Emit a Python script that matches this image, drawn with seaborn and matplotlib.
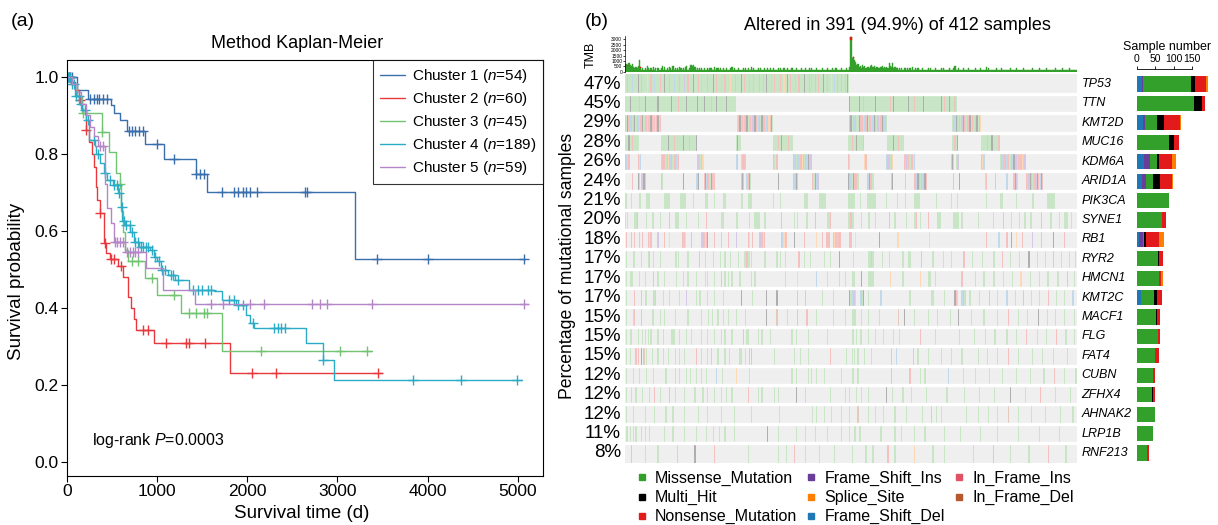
import numpy as np
import matplotlib
matplotlib.use("Agg")
import matplotlib.pyplot as plt
from matplotlib.colors import ListedColormap
from matplotlib.lines import Line2D
import seaborn as sns

# ---------------- (a) Kaplan-Meier data ----------------
km_labels = ["Chuster 1 ($\\it{n}$=54)", "Chuster 2 ($\\it{n}$=60)", "Chuster 3 ($\\it{n}$=45)",
             "Chuster 4 ($\\it{n}$=189)", "Chuster 5 ($\\it{n}$=59)"]
km_colors = ["#3a6fae", "#e8383d", "#72c472", "#2aabc6", "#b486c8"]

c1_t = [0, 111, 230, 487, 527, 586, 665, 863, 1081, 1430, 1556, 3200]
c1_s = [1.0, 0.964, 0.942, 0.927, 0.905, 0.888, 0.859, 0.824, 0.785, 0.747, 0.700, 0.526]
c1_end = 5080
c1_cens = [20, 40, 60, 260, 300, 330, 360, 400, 450, 690, 720, 760, 800, 850, 1002, 1192,
           1437, 1476, 1516, 1715, 1853, 1893, 1952, 1992, 2032, 2111, 2645, 2665, 3437, 3999, 5073]

c2_t = [0, 40, 91, 131, 170, 210, 250, 280, 300, 321, 337, 368, 408, 440, 480, 566, 626, 677,
        717, 745, 770, 970, 1814]
c2_s = [1.0, 0.985, 0.964, 0.94, 0.913, 0.861, 0.83, 0.80, 0.766, 0.714, 0.68, 0.645, 0.569,
        0.541, 0.526, 0.508, 0.48, 0.429, 0.398, 0.37, 0.342, 0.307, 0.231]
c2_end = 3497
c2_cens = [30, 150, 210, 368, 428, 487, 519, 600, 843, 903, 1101, 1319, 1358, 1536, 2051, 2321, 3445]

c3_t = [0, 60, 110, 170, 390, 470, 546, 590, 606, 620, 645, 673, 863, 1002, 1271, 1723]
c3_s = [1.0, 0.98, 0.95, 0.905, 0.857, 0.805, 0.749, 0.72, 0.65, 0.597, 0.55, 0.52, 0.476,
        0.433, 0.385, 0.288]
c3_end = 3378
c3_cens = [15, 180, 390, 595, 725, 784, 942, 1188, 1358, 1437, 1516, 1556, 2150, 3029, 3326]

c4_t = [0, 51, 91, 131, 170, 210, 250, 309, 329, 368, 408, 447, 507, 566, 600, 615, 645, 705,
        745, 804, 923, 962, 1002, 1041, 1121, 1200, 1358, 1636, 1715, 1873, 1992, 2032, 2071,
        2657, 2843, 2962]
c4_s = [1.0, 0.98, 0.95, 0.93, 0.913, 0.888, 0.836, 0.82, 0.80, 0.776, 0.75, 0.732, 0.719,
        0.697, 0.662, 0.624, 0.615, 0.597, 0.571, 0.558, 0.55, 0.532, 0.52, 0.498, 0.485,
        0.472, 0.446, 0.442, 0.42, 0.407, 0.381, 0.359, 0.348, 0.307, 0.264, 0.212]
c4_end = 5041
c4_cens = [10, 25, 40, 60, 80, 100, 130, 160, 200, 240, 300, 350, 420, 480, 520, 560, 580, 610,
           630, 660, 700, 720, 760, 790, 820, 850, 880, 900, 940, 980, 1020, 1060, 1090, 1150,
           1180, 1230, 1400, 1450, 1500, 1560, 1600, 1800, 1850, 1900, 1950, 2060, 2300, 2340,
           2380, 2420, 2843, 3841, 4368, 4990]

c5_t = [0, 60, 110, 160, 210, 260, 300, 348, 420, 447, 487, 527, 645, 883, 1061, 1418]
c5_s = [1.0, 0.98, 0.96, 0.93, 0.9, 0.87, 0.845, 0.82, 0.72, 0.659, 0.62, 0.571, 0.545, 0.502,
        0.446, 0.41]
c5_end = 5112
c5_cens = [368, 400, 530, 560, 590, 620, 665, 700, 730, 760, 784, 1596, 1734, 2032, 2190, 2713,
           2804, 2883, 3386, 5069]

# ---------------- (b) oncoplot data ----------------
n_samples = 391
genes = ["TP53", "TTN", "KMT2D", "MUC16", "KDM6A", "ARID1A", "PIK3CA", "SYNE1", "RB1", "RYR2",
         "HMCN1", "KMT2C", "MACF1", "FLG", "FAT4", "CUBN", "ZFHX4", "AHNAK2", "LRP1B", "RNF213"]
pct = [47, 45, 29, 28, 26, 24, 21, 20, 18, 17, 17, 17, 15, 15, 15, 12, 12, 12, 11, 8]

# side bar counts per variant class
fs_del = [13, 0, 16, 0, 20, 13, 0, 0, 7, 0, 0, 11, 0, 0, 2, 2, 0, 0, 0, 0]
fs_ins = [4, 0, 6, 0, 16, 13, 0, 0, 9, 0, 0, 0, 0, 0, 0, 0, 0, 0, 0, 0]
if_del = [0, 0, 0, 0, 0, 0, 0, 2, 0, 0, 0, 0, 2, 0, 0, 0, 0, 3, 0, 2]
if_ins = [0, 2, 0, 0, 0, 0, 0, 0, 0, 0, 0, 0, 0, 0, 0, 0, 0, 0, 0, 0]
missense = [130, 153, 33, 88, 20, 18, 88, 67, 5, 58, 60, 36, 50, 58, 46, 43, 42, 45, 45, 25]
multi_hit = [11, 20, 19, 13, 4, 18, 0, 0, 5, 2, 0, 7, 4, 0, 2, 0, 3, 0, 0, 0]
nonsense = [30, 9, 42, 12, 35, 34, 0, 10, 35, 10, 5, 14, 6, 4, 10, 4, 4, 0, 0, 6]
splice = [4, 1, 3, 0, 12, 2, 0, 0, 13, 0, 5, 0, 0, 0, 0, 0, 0, 0, 0, 0]

# TMB per sample (base-36 digits, x100)
tmb_levels = ("7768657434" "35b4232325" "3232423132" "2352423243" "2523232432" "3245236656"
              "4232323232" "2323322423" "3232232322" "2342322232" "2232323224" "2322232322"
              "3223232232" "2232322322" "3222322232" "2232223223" "2322232222" "3222232223"
              "2232222322" "23224wdeb9" "6745364534" "4356453443" "3453434385" "4834332323"
              "2332323242" "2323222322" "2232322232" "2223232222" "3222352232" "2232222322"
              "2223222322" "2242322222" "2322232222" "2223222232" "2222322222" "2232222232"
              "2222322222" "2232222232" "2222322222" "2")
tmb_red_cols = [195, 197, 13, 2]
tmb_red_vals = [250, 120, 100, 80]

# per-gene sample cells: "start:pattern" (M missense, H multi-hit, N nonsense, I fs-ins,
# S splice, D fs-del, i in-frame ins, d in-frame del)
onco_rows = [
    "0:MMNMMMDMMMMHMMNMMMMSMMNMMDMMMMNMMMHMMMNMMMDMMMMNMMMIMMNMMMMHMMMNMMDMMMMNMMMMHMMN"
    "MMMDMMNMMMMSMMMNMMMMHMMNMMMDMMMNMMMMIMMNMMHMMMDMMNMMMMNMMSMMHMMNMMMDMMNMMMMHMMMN"
    "MDMMIMMNMMMHMMMNMMSMMDMNMMMIMMNMHM",
    "0:MMMMHMMMMMMMNMMMMHMMMMMMMMMMHMMMMMMMMMMMHMMMMMNMMMMMMHMMMMMMMMHMMMMMHMMMMMNMMMMHMM"
    "MMMMMHMMMMMiMM 194:HMMMMMMMHMMMNMMMMMMMMMHMMMMMMMMMMMMNMMHMMMMMMMMMMMMHMMMMNMMMMMMMH"
    "MMMMMMMMMMMMMMHMMNMMMHMMMMdM",
    "0:NMHNDNMNHMNDMNNHMINMNDHNMNSNHMN 97:MNHDNMNNHMDNMINHNMDNMHNNMDNSNHM "
    "194:NHMNDNMMHNINMDNHMNNMDHNMNIMNHNDNM 283:MNDHNMNMIHNDMNNHMNDMNHMNS",
    "0:MMMHMMNMMMMM 31:MMMMMMHMMMMNMMMMMMMHMMMMNMMMMMH 96:MHMM 128:MMMMNMMHMMMMMNMMM "
    "193:MMMNMMMHMMMMMN 227:MMMMMHMMMNMMMM 283:MMNMH 308:MMMMMNMMMHMMMMMN",
    "0:NDMN 11:NSD 31:DNINMNSNDIMNNDMN 62:NIDMNS 96:DN 100:MNIND 128:NMSN "
    "145:IDNMNDNISNMNDHNIN 193:NM 207:SN 226:DINMNS 241:NDIDNMINSD 282:NHD 286:MNI "
    "308:NSD 324:MNDINIDNSMNDHNIMNDNSDIN",
    "6:N 11:HD 14:NIHN 31:NM 50:H 61:DNH 68:NHDINMHNDN 100:IHN 105:DNHM 132:H 145:NDIHN "
    "162:NMHDNI 193:HNDMHNINM 209:NDHNIM 230:NH 242:D 250:NIDHNMIDNHN 284:N 289:H 311:MN "
    "320:N 330:D 336:NHIM 347:NDIHNMDNIHNSDHN",
    "0:MM 5:M 12:MM 18:MMMM 34:MMMMM 48:MMMMM 59:M 69:MMM 77:M 85:MM 100:MM 106:MMMM 128:M "
    "134:M 155:MMM 168:MMMMMM 193:MMMMMM 203:M 209:MMMMMMMM 226:M 235:M 242:M 250:MMMMM "
    "269:M 282:M 287:M 312:M 324:MMM 338:M 352:MM 365:MMMMMMM",
    "0:M 2:M 8:MMN 18:M 23:MM 30:M 38:N 43:MMMM 53:M 63:M 70:N 83:MMM 96:MM 107:M 112:MMMMM "
    "120:MM 135:N 146:M 149:M 157:M 164:d 175:MMN 193:MMNMM 204:M 210:MM 216:M 228:N 233:M "
    "243:M 250:MMN 255:M 262:N 270:MMM 284:MMMMM 291:M 305:M 318:M 327:d 334:M 341:M "
    "345:MM 350:MM 360:N 368:M 375:M 380:MMM 386:M",
    "1:N 5:I 8:N 12:D 15:N 20:NSN 28:I 34:N 38:S 49:NDNS 57:N 66:NINSNH 77:N 83:D 89:N "
    "96:I 106:NS 110:N 116:NINSN 135:NDSNN 146:H 155:N 165:S 170:N 174:NIN 180:NSNDNIN "
    "194:NN 199:S 220:H 235:SS 263:S 312:N 323:D 330:N 334:H 338:S 343:N 352:I 360:N "
    "370:H 380:N",
    "1:M 7:MM 14:M 20:MN 24:M 30:M 43:MM 46:M 54:M 64:N 69:M 76:M 82:M 86:M 91:M 98:M "
    "103:MMNMM 109:M 120:MM 131:M 134:M 138:M 150:N 155:M 160:M 172:M 177:M 185:H 197:M "
    "210:MMMNM 222:M 228:M 240:M 245:MM 256:N 266:M 275:M 282:M 292:NN 300:M 309:M "
    "318:MM 326:N 333:M 341:M 349:H 356:M 363:M 370:N 377:M 384:M 389:M",
    "1:M 4:MMM 12:M 17:M 24:N 28:M 34:M 44:M 50:M 54:M 61:M 69:M 71:M 77:M 83:N 86:M 89:M "
    "92:M 99:M 109:M 112:M 138:M 149:S 165:D 175:M 185:M 190:M 196:MMM 204:H 210:MMMMM "
    "229:S 240:M 255:S 262:MMM 268:M 291:N 303:M 310:M 318:MM 327:M 335:M 342:S 350:M "
    "358:M 365:MM 374:M 382:N 388:M",
    "1:M 8:N 14:N 17:MM 24:DMD 33:M 38:M 47:M 53:I 61:M 64:MM 71:M 77:M 85:M 100:H 110:M "
    "122:H 131:H 149:N 156:N 170:M 180:M 194:HMDNIM 203:DNMH 210:M 221:D 246:M 265:MM "
    "276:M 285:HNM 291:DNMD 298:M 306:M 315:N 322:M 330:D 337:M 344:N 351:M 358:M 366:N "
    "373:M 380:M 387:D",
    "1:M 7:MN 14:N 23:MM 30:M 34:M 43:M 54:M 66:M 72:M 75:M 80:M 85:M 89:M 96:M 104:M "
    "122:H 131:d 140:M 149:N 157:N 165:M 180:M 190:M 196:MMMM 204:M 210:M 220:M 236:d "
    "241:H 250:M 262:M 270:M 281:M 288:H 299:M 310:M 322:M 331:N 340:M 348:M 357:H 365:M "
    "372:M 380:M 388:M",
    "1:M 4:MM 11:M 15:M 17:M 20:M 22:M 28:M 33:M 40:MMM 47:M 53:M 57:M 66:M 71:M 77:M "
    "83:M 86:M 92:M 102:N 105:MM 115:M 118:M 125:M 144:M 148:M 158:M 175:M 196:MM 200:M "
    "203:MM 210:M 216:M 223:M 232:M 237:M 255:N 268:M 289:M 302:M 311:M 319:MM 330:M "
    "338:M 347:N 356:M 364:M 373:N 381:M 388:M",
    "1:M 4:M 9:N 11:N 14:H 16:d 18:M 23:M 28:M 33:M 37:M 43:M 47:M 51:M 61:N 66:M 71:M "
    "74:D 80:M 86:M 90:M 99:MM 104:M 107:N 109:N 129:M 146:M 151:M 158:M 177:N 191:M "
    "196:M 198:M 201:M 207:M 213:M 230:N 234:D 249:N 253:M 262:M 273:M 282:M 291:M 305:M "
    "313:M 322:M 331:N 340:M 352:M 361:M 370:M 382:M",
    "1:M 7:M 12:M 18:M 24:M 35:M 43:M 47:M 53:M 56:M 61:M 66:M 70:M 79:D 84:M 96:S 107:M "
    "144:M 148:M 158:M 161:M 165:M 172:M 187:M 196:MM 201:M 230:N 246:N 255:M 259:M "
    "279:D 292:M 303:M 315:M 326:M 338:M 350:M 362:M 371:N 380:M 389:MM",
    "1:M 5:M 9:M 15:M 21:M 25:N 30:M 38:N 43:M 51:M 60:M 67:M 71:M 77:M 83:M 87:M 92:M "
    "106:N 115:M 118:M 129:M 132:M 148:H 156:M 177:M 190:M 194:M 200:M 204:M 210:M 226:H "
    "231:M 240:M 247:M 260:M 278:M 293:M 306:M 319:M 333:H 346:M 359:N 372:M 385:M",
    "1:M 7:M 17:M 25:M 35:M 41:M 51:M 63:M 71:M 83:M 94:M 109:M 133:M 162:M 165:M 172:M "
    "178:M 187:M 194:M 201:d 210:M 216:M 223:M 233:M 243:M 257:M 265:d 269:M 273:M "
    "295:M 305:M 314:M 322:M 331:d 340:M 351:M 363:M 376:M 387:M",
    "1:MM 4:M 7:M 9:M 14:M 17:M 21:M 34:M 41:M 51:M 61:M 70:M 76:M 81:M 86:M 94:M 123:H "
    "132:M 148:M 156:M 164:M 175:M 187:M 194:M 198:MM 202:MM 221:M 233:M 239:M 250:M "
    "259:M 276:M 290:M 307:M 322:M 340:M 358:M 375:M",
    "5:N 17:M 28:M 45:D 60:H 77:N 106:M 132:M 139:M 146:N 156:M 168:M 181:M 196:M 208:M "
    "214:M 227:N 233:M 250:S 266:M 276:M 301:M 318:d 333:M 349:M 366:N 381:M",
]

# ---------------- styling ----------------
sns.set_theme(style="ticks", rc={"text.color": "black", "axes.labelcolor": "black",
                                 "xtick.color": "black", "ytick.color": "black",
                                 "axes.edgecolor": "black"})
plt.rcParams['font.family'] = ['Liberation Sans', 'DejaVu Sans']
plt.rcParams['mathtext.fontset'] = 'custom'
plt.rcParams['mathtext.rm'] = 'Liberation Sans'
plt.rcParams['mathtext.it'] = 'Liberation Sans:italic'

W, H = 1218.0, 525.0
fig = plt.figure(figsize=(W / 100, H / 100), dpi=100)


def fx(px):
    return px / W


def fy(py):
    return 1 - py / H


# ---------------- panel (a) ----------------
ax = fig.add_axes([fx(66.8), fy(476), fx(542.9) - fx(66.8), (476 - 60) / H])
curves = [(c1_t, c1_s, c1_end, c1_cens), (c2_t, c2_s, c2_end, c2_cens),
          (c3_t, c3_s, c3_end, c3_cens), (c4_t, c4_s, c4_end, c4_cens),
          (c5_t, c5_s, c5_end, c5_cens)]
for (t, s, end, cens), col in zip(curves, km_colors):
    xs = list(t) + [end]
    ys = list(s) + [s[-1]]
    sns.lineplot(x=xs, y=ys, drawstyle="steps-post", color=col, linewidth=1.0,
                 estimator=None, sort=False, ax=ax)
    idx = np.searchsorted(np.array(t), np.array(cens), side="right") - 1
    cy = np.array(s)[idx]
    ax.plot(cens, cy, linestyle="none", marker="+", markersize=7, markeredgewidth=1.0,
            color=col)

ax.set_xlim(0, 5278)
ax.set_ylim(-0.037, 1.043)
ax.set_xticks([0, 1000, 2000, 3000, 4000, 5000])
ax.set_yticks([0, 0.2, 0.4, 0.6, 0.8, 1.0])
ax.set_yticklabels(["0.0", "0.2", "0.4", "0.6", "0.8", "1.0"])
ax.tick_params(direction="out", length=4, width=0.8, labelsize=12.5, pad=2)
for sp in ax.spines.values():
    sp.set_linewidth(0.8)
    sp.set_color("black")
ax.set_xlabel("")
ax.set_ylabel("")
handles = [Line2D([], [], color=c, lw=1.0) for c in km_colors]
leg = ax.legend(handles, km_labels, loc="upper right", bbox_to_anchor=(1, 1),
                borderaxespad=0, frameon=True, fancybox=False, edgecolor="black",
                fontsize=11, handlelength=1.65, handletextpad=0.4, labelspacing=0.33,
                borderpad=0.45)
leg.get_frame().set_linewidth(0.8)
fig.text(fx(92), fy(441), "log-rank $\\it{P}$=0.0003", fontsize=11.5, ha="left", va="center")
fig.text(fx(302), fy(513), "Survival time (d)", fontsize=13.5, ha="center", va="center")
fig.text(fx(17), fy(281), "Survival probability", fontsize=13.5, rotation=90,
         ha="center", va="center")
fig.text(fx(297), fy(43), "Method Kaplan-Meier", fontsize=13, ha="center", va="center")
fig.text(fx(23), fy(22), "(a)", fontsize=14, ha="center", va="center")

# ---------------- panel (b) ----------------
code = {'.': 0, 'M': 1, 'H': 2, 'N': 3, 'I': 4, 'S': 5, 'D': 6, 'i': 7, 'd': 8}
pale = ["#efefef", "#c8e5c5", "#aeaeae", "#f5c0c0", "#d6c8e3", "#fdd8b4", "#c2d9eb",
        "#f5cbd0", "#e3cabd"]


def build_row(spec):
    row = np.zeros(n_samples, dtype=int)
    for tok in spec.split():
        start, pat = tok.split(":")
        for k, ch in enumerate(pat):
            j = int(start) + k
            if j < n_samples:
                row[j] = code[ch]
    return row


mat = np.vstack([build_row(r) for r in onco_rows])

ax_m = fig.add_axes([fx(625), fy(462.7), (1077 - 625) / W, 388.4 / H])
sns.heatmap(mat, ax=ax_m, cmap=ListedColormap(pale), vmin=-0.5, vmax=8.5, cbar=False,
            xticklabels=False, yticklabels=False)
for i in range(1, len(genes)):
    ax_m.axhline(i, color="white", lw=2.4)
ax_m.tick_params(left=False, bottom=False)
for i, (g, p) in enumerate(zip(genes, pct)):
    ax_m.text(-3.5, i + 0.5, f"{p}%", ha="right", va="center", fontsize=13.5)
    ax_m.text(395, i + 0.5, g, ha="left", va="center", fontsize=9, style="italic")

# TMB bars
tmb = np.array([int(c, 36) * 100 for c in tmb_levels])
ax_t = fig.add_axes([fx(625), fy(71.7), (1077 - 625) / W, 35.6 / H])
ax_t.bar(np.arange(len(tmb)) + 0.5, tmb, width=1.0, color="#33a02c",
         edgecolor="#33a02c", linewidth=0.3)
red_cols = np.array(tmb_red_cols)
ax_t.bar(red_cols + 0.5, tmb_red_vals, bottom=tmb[red_cols] - np.array(tmb_red_vals),
         width=1.0, color="#e31a1c", edgecolor="#e31a1c", linewidth=0.3)
ax_t.set_xlim(0, n_samples)
ax_t.set_ylim(0, 3300)
ax_t.set_yticks([0, 500, 1000, 1500, 2000, 2500, 3000])
ax_t.tick_params(axis="y", labelsize=3.5, length=1.5, width=0.5, pad=0.5)
ax_t.tick_params(axis="x", bottom=False, labelbottom=False)
for k in ["top", "right", "bottom"]:
    ax_t.spines[k].set_visible(False)
ax_t.spines["left"].set_linewidth(0.5)
fig.text(fx(591), fy(55), "TMB", rotation=90, fontsize=9, ha="center", va="center")

# side bar chart
vc_names = ["Frame_Shift_Del", "Frame_Shift_Ins", "In_Frame_Del", "In_Frame_Ins",
            "Missense_Mutation", "Multi_Hit", "Nonsense_Mutation", "Splice_Site"]
vc_colors = {"Missense_Mutation": "#33a02c", "Multi_Hit": "black",
             "Nonsense_Mutation": "#e31a1c", "Frame_Shift_Ins": "#6a3d9a",
             "Splice_Site": "#ff7f00", "Frame_Shift_Del": "#1f78b4",
             "In_Frame_Ins": "#e05264", "In_Frame_Del": "#b5582c"}
vc_values = [fs_del, fs_ins, if_del, if_ins, missense, multi_hit, nonsense, splice]

ax_b = fig.add_axes([fx(1136.7), fy(462.7), 80 / W, 388.4 / H])
left = np.zeros(len(genes))
ypos = np.arange(len(genes)) + 0.5
for name, vals in zip(vc_names, vc_values):
    v = np.array(vals, dtype=float)
    ax_b.barh(ypos, v, left=left, height=0.78, color=vc_colors[name], linewidth=0)
    left += v
ax_b.set_xlim(0, 80 / 0.371)
ax_b.set_ylim(len(genes), 0)
ax_b.set_yticks([])
ax_b.xaxis.tick_top()
ax_b.set_xticks([0, 50, 100, 150])
ax_b.tick_params(axis="x", labelsize=7.5, length=2.5, width=0.6, pad=1)
for k in ["bottom", "left", "right"]:
    ax_b.spines[k].set_visible(False)
ax_b.spines["top"].set_position(("outward", 4))
ax_b.spines["top"].set_linewidth(0.6)
ax_b.spines["top"].set_bounds(0, 150)
fig.text(fx(1167), fy(47), "Sample number", fontsize=9, ha="center", va="center")

fig.text(fx(568), fy(266), "Percentage of mutational samples", rotation=90, fontsize=12.7,
         ha="center", va="center")
fig.text(fx(897), fy(25), "Altered in 391 (94.9%) of 412 samples", fontsize=13,
         ha="center", va="center")
fig.text(fx(597), fy(22), "(b)", fontsize=14, ha="center", va="center")

leg_order = ["Missense_Mutation", "Multi_Hit", "Nonsense_Mutation", "Frame_Shift_Ins",
             "Splice_Site", "Frame_Shift_Del", "In_Frame_Ins", "In_Frame_Del"]
lh = [Line2D([], [], marker="s", linestyle="none", markersize=5, color=vc_colors[n])
      for n in leg_order]
fig.legend(lh, leg_order, loc="upper left", bbox_to_anchor=(fx(636), fy(471)), ncol=3,
           frameon=False, fontsize=11.5, handlelength=0.7, handletextpad=0.5,
           columnspacing=0.5, labelspacing=0.25, borderpad=0, borderaxespad=0)

fig.savefig("out.png", dpi=100)
